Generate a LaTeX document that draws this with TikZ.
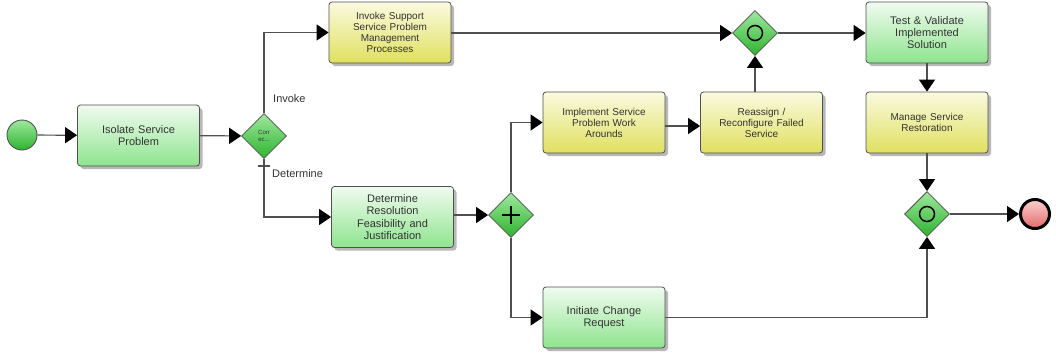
\documentclass[tikz,border=0pt]{standalone}
\usepackage{fontspec}
\setmainfont{Liberation Sans}
\usetikzlibrary{arrows.meta,shapes.geometric,shadows,calc}
\definecolor{edge}{HTML}{505050}
\definecolor{txt}{HTML}{333333}
\definecolor{grnTop}{HTML}{F0FBF0}
\definecolor{grnBot}{HTML}{8EE48E}
\definecolor{ylwTop}{HTML}{FAFAE0}
\definecolor{ylwBot}{HTML}{E0E060}
\definecolor{gateTop}{HTML}{9EE89E}
\definecolor{gateBot}{HTML}{2DB42D}
\definecolor{endTop}{HTML}{FBD0D0}
\definecolor{endBot}{HTML}{E46A6A}
\tikzset{
  task/.style={draw=edge, line width=0.8pt, rounded corners=3pt,
    minimum width=122pt, minimum height=61pt, inner sep=2pt,
    align=center, text=txt, text width=112pt,
    drop shadow={shadow xshift=3pt, shadow yshift=-3pt, opacity=0.28, fill=black}},
  greentask/.style={task, top color=grnTop, bottom color=grnBot, font=\fontsize{11}{12.3}\selectfont},
  yellowtask/.style={task, top color=ylwTop, bottom color=ylwBot, font=\fontsize{10}{11}\selectfont},
  gate/.style={diamond, aspect=1, draw=edge, line width=0.8pt, inner sep=0pt,
    minimum width=45pt, minimum height=45pt, top color=gateTop, bottom color=gateBot},
  flow/.style={draw=edge, line width=1.2pt,
    -{Triangle[length=12pt,width=16pt,color=black]}},
  plain/.style={draw=edge, line width=1.2pt},
  lbl/.style={font=\fontsize{11}{12}\selectfont, text=txt, inner sep=0pt, anchor=west}
}
\begin{document}
\begin{tikzpicture}[x=1pt,y=-1pt]
\useasboundingbox (0,0) rectangle (1056,354);
\fill[white] (0,0) rectangle (1056,354);

% events
\node[circle, draw=edge, line width=0.9pt, minimum size=30pt, inner sep=0pt,
  top color=gateTop, bottom color=gateBot] (start) at (22,135) {};
\node[circle, draw=black, line width=3pt, minimum size=29pt, inner sep=0pt,
  top color=endTop, bottom color=endBot] (end) at (1035,214) {};

% activities
\node[greentask] (isolate) at (138.5,135.5) {Isolate Service\\Problem};
\node[yellowtask] (invoke) at (390,32.5) {Invoke Support\\Service Problem\\Management\\Processes};
\node[greentask] (determine) at (392.5,217) {Determine\\Resolution\\Feasibility and\\Justification};
\node[yellowtask] (implement) at (604,122.5) {Implement Service\\Problem Work\\Arounds};
\node[yellowtask] (reassign) at (761.5,122.5) {Reassign /\\Reconfigure Failed\\Service};
\node[greentask] (test) at (927,32.5) {Test \& Validate\\Implemented\\Solution};
\node[yellowtask] (manage) at (927,122.5) {Manage Service\\Restoration};
\node[greentask] (initiate) at (604,317.5) {Initiate Change\\Request};

% gateways
\node[gate, font=\fontsize{6}{7}\selectfont, text=txt, align=center] (corr) at (264,136) {Corr\\ec...};
\node[gate] (orA) at (755,33) {};
\node[gate] (par) at (511,215) {};
\node[gate] (orB) at (927,214) {};
\draw[black, line width=1.5pt] (orA) circle (7.5pt);
\draw[black, line width=1.5pt] (orB) circle (7.5pt);
\draw[black, line width=2.4pt] ($(par)+(-9,0)$) -- ($(par)+(9,0)$)
  ($(par)+(0,-9)$) -- ($(par)+(0,9)$);

% sequence flows
\draw[flow] (start) -- (isolate);
\draw[flow] (isolate) -- (corr);
\draw[flow] (corr.north) |- (invoke.west);
\draw[flow] (corr.south) |- (determine.west);
\draw[plain] ($(corr.south)+(-6,7)$) -- ($(corr.south)+(6,7)$);
\draw[flow] (invoke.east |- orA) -- (orA.west);
\draw[flow] (determine.east |- par) -- (par.west);
\draw[flow] (par.north) |- (implement.west);
\draw[flow] (par.south) |- (initiate.west);
\draw[flow] (implement.east |- 0,126) -- (reassign.west |- 0,126);
\draw[flow] (orA |- reassign.north) -- (orA.south);
\draw[flow] (orA.east) -- (test.west |- orA);
\draw[flow] (test.south) -- (manage.north);
\draw[flow] (manage.south) -- (orB.north);
\draw[flow] (orB.east) -- (end.west);
\draw[flow] (initiate.east) -| (orB.south);

% flow labels
\node[lbl] (lblInvoke) at (273,99) {Invoke};
\node[lbl] (lblDetermine) at (272,174) {Determine};
\end{tikzpicture}
\end{document}
